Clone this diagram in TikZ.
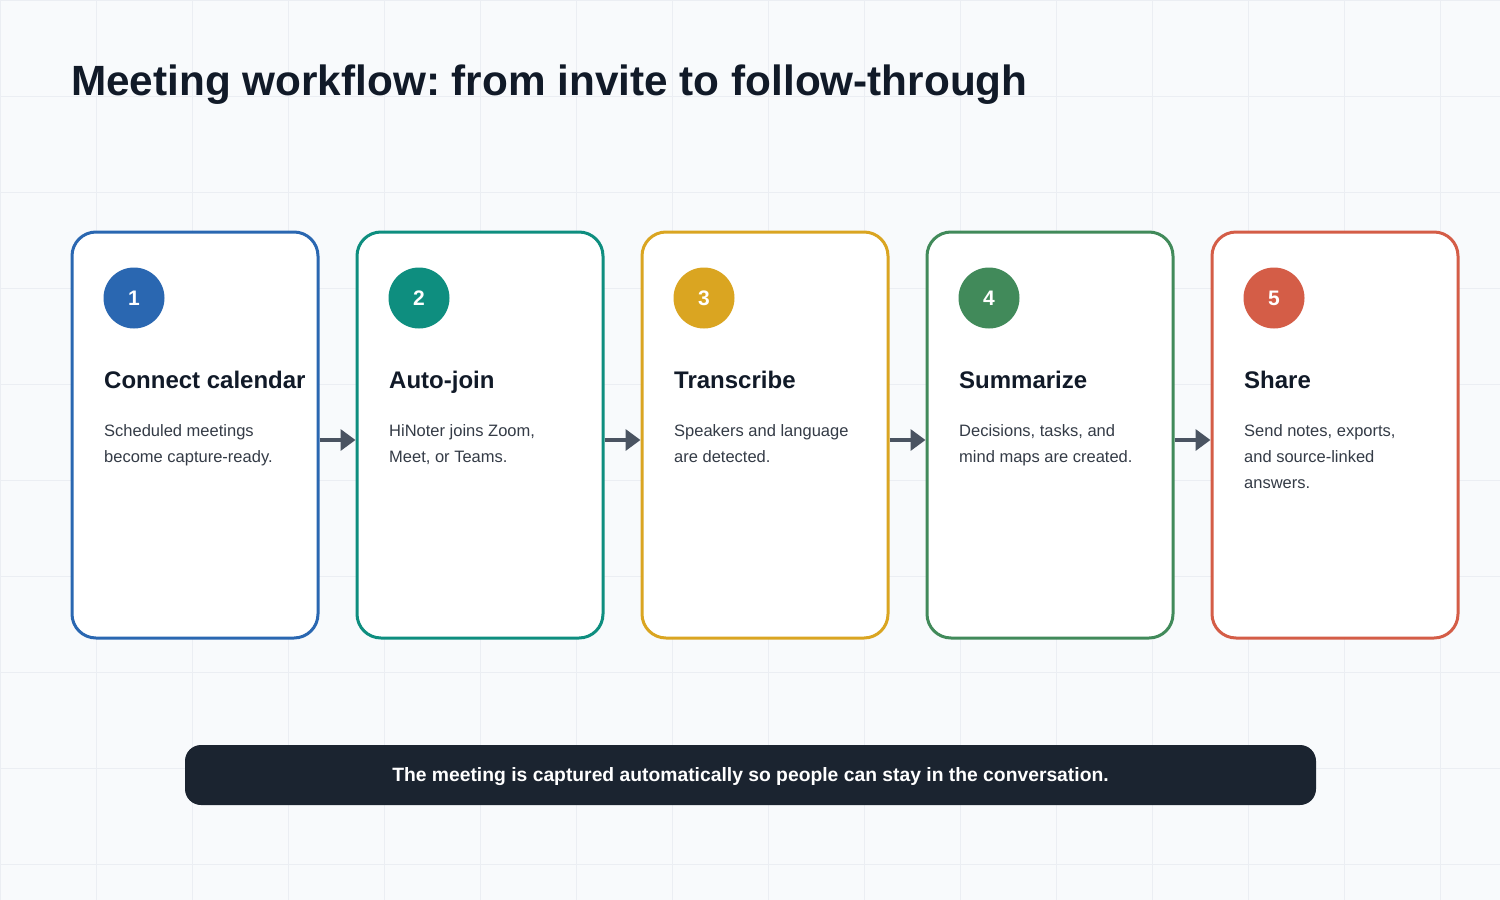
\documentclass[tikz,border=0pt]{standalone}
\usepackage{fontspec}
\setmainfont{Liberation Sans}
\frenchspacing
\usetikzlibrary{arrows.meta}
\definecolor{bg}{HTML}{F8FAFC}
\definecolor{gridc}{HTML}{EBEEF3}
\definecolor{ink}{HTML}{111A28}
\definecolor{bodyc}{HTML}{343B46}
\definecolor{arrowc}{HTML}{4A5361}
\definecolor{barc}{HTML}{1B2430}
\definecolor{cA}{HTML}{2A67B1}
\definecolor{cB}{HTML}{0E8E7F}
\definecolor{cC}{HTML}{DAA521}
\definecolor{cD}{HTML}{418A5A}
\definecolor{cE}{HTML}{D45D47}
\tikzset{
  card/.style={draw, fill=white, line width=3pt, rounded corners=24pt, minimum width=246pt, minimum height=406pt, inner sep=0pt},
  badge/.style={circle, minimum size=61pt, inner sep=0pt, text=white, font=\bfseries\fontsize{21}{24}\selectfont},
  cardtitle/.style={anchor=base west, inner sep=0pt, text=ink, font=\bfseries\fontsize{24}{28}\selectfont},
  descline/.style={anchor=base west, inner sep=0pt, text=bodyc, font=\fontsize{16.5}{20}\selectfont},
  flow/.style={draw=arrowc, line width=3.5pt, -{Triangle[length=15pt,width=21pt]}},
  gridline/.style={draw=gridc, line width=1pt}
}
\begin{document}
\begin{tikzpicture}[x=1pt,y=-1pt]
\fill[bg] (0,0) rectangle (1500,900);
\useasboundingbox (0,0) rectangle (1500,900);
\foreach \gx in {0,96,...,1440} \draw[gridline] (\gx,0) -- (\gx,900);
\foreach \gy in {0,96,...,864} \draw[gridline] (0,\gy) -- (1500,\gy);

\node[anchor=base west, inner sep=0pt, text=ink, font=\bfseries\fontsize{42.3}{48}\selectfont] (title) at (71,95) {Meeting workflow: from invite to follow-through};

\foreach \ki/\kn/\kc/\kt/\kla/\klb/\klc in {
  0/1/cA/Connect calendar/Scheduled meetings/become capture-ready./{},
  1/2/cB/Auto-join/{HiNoter joins Zoom,}/{Meet, or Teams.}/{},
  2/3/cC/Transcribe/Speakers and language/are detected./{},
  3/4/cD/Summarize/{Decisions, tasks, and}/mind maps are created./{},
  4/5/cE/Share/{Send notes, exports,}/and source-linked/answers.}{
  \pgfmathsetmacro{\kcx}{195+285*\ki}
  \pgfmathsetmacro{\klx}{104+285*\ki}
  \pgfmathsetmacro{\kbx}{134+285*\ki}
  \node[card, draw=\kc] (card\ki) at (\kcx,435) {};
  \node[badge, fill=\kc] (badge\ki) at (\kbx,298) {\kn};
  \node[cardtitle] (ttl\ki) at (\klx,388) {\kt};
  \node[descline] (da\ki) at (\klx,436.5) {\kla};
  \node[descline] (db\ki) at (\klx,462.5) {\klb};
  \node[descline] (dc\ki) at (\klx,488.5) {\klc};
}
\foreach \ka/\kb in {0/1,1/2,2/3,3/4}
  \draw[flow] ([yshift=-5pt]card\ka.east) -- ([yshift=-5pt]card\kb.west);

\node[fill=barc, rounded corners=16pt, minimum width=1131pt, minimum height=60pt, inner sep=0pt, text height=14pt, text depth=0.6pt, text=white, font=\bfseries\fontsize{19.3}{22}\selectfont] (note) at (750.5,775) {The meeting is captured automatically so people can stay in the conversation.};
\end{tikzpicture}
\end{document}
